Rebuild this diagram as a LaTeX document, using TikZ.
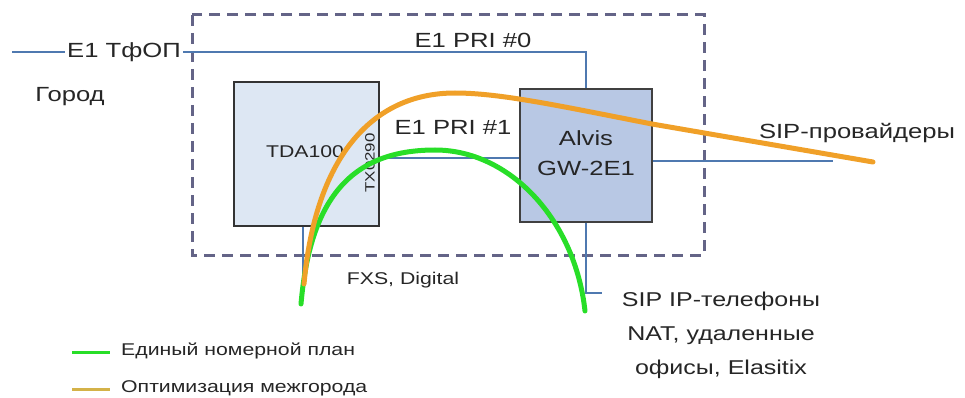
\documentclass[tikz,border=0pt]{standalone}
\usepackage{fontspec}
\setmainfont{Liberation Sans}[FakeStretch=1.25]
\begin{document}
\begin{tikzpicture}[x=1pt,y=-1pt,
  every node/.style={text=black!85, inner sep=0pt},
  bluew/.style={draw=lineblue, line width=2pt},
  dashbox/.style={draw=dashgray, line width=3pt, dash pattern=on 11pt off 7pt},
  tdabox/.style={draw=black!80, line width=1.5pt, fill=tdafill, minimum width=145pt, minimum height=144pt},
  gwbox/.style={draw=black!75, line width=1.5pt, fill=gwfill, minimum width=132pt, minimum height=133pt},
  big/.style={font=\fontsize{20.5}{30}\selectfont},
  mid/.style={font=\fontsize{17}{20}\selectfont},
  leg/.style={font=\fontsize{17}{20}\selectfont},
  greenpath/.style={draw=pathgreen, line width=5pt, line cap=round},
  orangepath/.style={draw=pathorange, line width=5pt, line cap=round}]
\definecolor{lineblue}{RGB}{79,121,176}
\definecolor{dashgray}{RGB}{100,100,135}
\definecolor{tdafill}{RGB}{221,231,243}
\definecolor{gwfill}{RGB}{184,200,228}
\definecolor{pathgreen}{RGB}{40,222,40}
\definecolor{pathorange}{RGB}{240,160,40}
\definecolor{legorange}{RGB}{212,178,72}

\useasboundingbox (0,0) rectangle (965,398);

% dashed enclosure
\draw[dashbox] (192,15) rectangle (704,255);

% boxes
\node[tdabox] (tda) at (306.5,154) {};
\node[gwbox] (gw) at (586,155.5) {};

% coordinates
\coordinate (e1start) at (12,52);
\coordinate (sipend) at (833,161);
\coordinate (tdadown) at (303,280);
\coordinate (gwdown) at (586,293);
\coordinate (gwtick) at (602,293);

% blue lines
\draw[bluew] (e1start) -- (gw.north |- e1start) -- (gw.north);
\draw[bluew] (tda.east |- 0,158) -- (gw.west |- 0,158);
\draw[bluew] (gw.east |- sipend) -- (sipend);
\draw[bluew] (tdadown |- tda.south) -- (tdadown);
\draw[bluew] (gw.south) -- (gwdown) -- (gwtick);

% labels
\node[big, fill=white, inner xsep=2pt, inner ysep=1pt] (lpstn) at (124,52) {E1 ТфОП};
\node[big] (lcity) at (70,97) {Город};
\node[big] (lpri0) at (473,40) {E1 PRI \#0};
\node[big] (lpri1) at (453,127) {E1 PRI \#1};
\node[font=\fontsize{17}{20}\selectfont] (ltda) at (305,152) {TDA100};
\node[font=\fontsize{13.5}{16}\selectfont, rotate=90] (ltx) at (370,163) {TX0290};

% curves
\draw[greenpath] (301,304) .. controls (310,200) and (350,150) .. (435,150)
  .. controls (510,150) and (575,220) .. (585,311);
\draw[orangepath] (304,284) .. controls (315,160) and (370,93) .. (455,93)
  .. controls (500,93) and (560,106) .. (652,124) -- (873,162);

\node[big, align=center] (lgw) at (586,153) {Alvis\\GW-2E1};
\node[big] (lsipprov) at (857,133) {SIP-провайдеры};
\node[mid] (lfxs) at (403,280) {FXS, Digital};
\node[font=\fontsize{20}{34}\selectfont, align=center] (lsipph) at (721,335) {SIP IP-телефоны\\NAT, удаленные\\офисы, Elasitix};

% legend
\coordinate (lg1a) at (72,352);
\coordinate (lg1b) at (110,352);
\coordinate (lg2a) at (72,389);
\coordinate (lg2b) at (110,389);
\draw[draw=pathgreen, line width=3pt] (lg1a) -- (lg1b);
\draw[draw=legorange, line width=3pt] (lg2a) -- (lg2b);
\node[leg, anchor=west] (leg1) at (121,351) {Единый номерной план};
\node[leg, anchor=west] (leg2) at (121,388) {Оптимизация межгорода};
\end{tikzpicture}
\end{document}
